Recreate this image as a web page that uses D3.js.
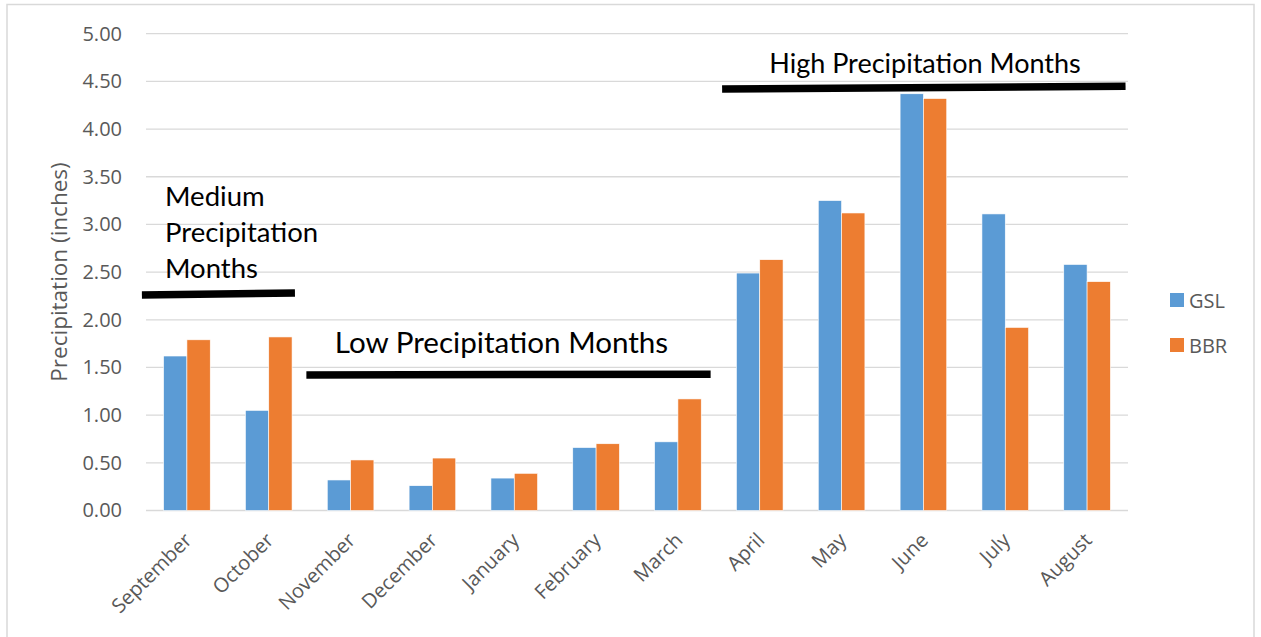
<!DOCTYPE html>
<html>
<head>
<meta charset="utf-8">
<script src="https://cdn.jsdelivr.net/npm/d3@7"></script>
<style>
  html, body { margin: 0; padding: 0; background: #fff; }
  svg { display: block; }
</style>
</head>
<body>
<svg id="chart" width="1261" height="637"></svg>
<script>
// Monthly precipitation, two stations
const months = ["September", "October", "November", "December", "January", "February",
                "March", "April", "May", "June", "July", "August"];
const seriesNames = ["GSL", "BBR"];
const gslValues = [1.62, 1.05, 0.32, 0.26, 0.34, 0.66, 0.72, 2.49, 3.25, 4.37, 3.11, 2.58];
const bbrValues = [1.79, 1.82, 0.53, 0.55, 0.39, 0.70, 1.17, 2.63, 3.12, 4.32, 1.92, 2.40];
const yTicks = [0, 0.5, 1, 1.5, 2, 2.5, 3, 3.5, 4, 4.5, 5];
const seriesColors = ["#5b9bd5", "#ed7d31"];

// Season brackets: span in category units (index of band start), level in inches
const seasonLabels = ["Medium\nPrecipitation\nMonths", "Low Precipitation Months", "High Precipitation Months"];
const seasonStart = [-0.05, 1.96, 7.04];
const seasonEnd = [1.82, 6.90, 11.97];
const seasonLevelStart = [2.26, 1.42, 4.42];
const seasonLevelEnd = [2.28, 1.43, 4.45];

const svg = d3.select("#chart");
const W = 1261, H = 637;
const margin = { left: 146, right: W - 1128, top: 33.7, bottom: H - 510.5 };
const plotW = W - margin.left - margin.right;
const plotH = H - margin.top - margin.bottom;

const tickFont = "'Open Sans', 'Noto Sans', sans-serif";
const noteFont = "Lato, 'Noto Sans', sans-serif";
const grey = "#595959";

// Chart frame
svg.append("rect")
  .attr("x", 7).attr("y", 4.5)
  .attr("width", 1247).attr("height", 640)
  .attr("fill", "#fff").attr("stroke", "#d9d9d9").attr("stroke-width", 1.5);

const g = svg.append("g").attr("transform", `translate(${margin.left},${margin.top})`);

const x0 = d3.scaleBand().domain(months).range([0, plotW]).padding(0);
const x1 = d3.scaleBand().domain(seriesNames).range([0, x0.bandwidth()]).paddingOuter(0.755).paddingInner(0);
const y = d3.scaleLinear().domain([0, 5]).range([plotH, 0]);
// category-position scale for the season brackets
const xc = d3.scaleLinear().domain([0, months.length]).range([0, plotW]);

// Gridlines
g.append("g")
  .selectAll("line")
  .data(yTicks)
  .join("line")
  .attr("x1", 0).attr("x2", plotW)
  .attr("y1", d => y(d)).attr("y2", d => y(d))
  .attr("stroke", "#d9d9d9").attr("stroke-width", 1.3);

// Y axis labels
const yAxis = d3.axisLeft(y).tickValues(yTicks).tickFormat(d3.format(".2f")).tickSize(0).tickPadding(24);
g.append("g").call(yAxis)
  .call(s => s.select(".domain").remove())
  .call(s => s.selectAll("text")
    .attr("fill", grey).attr("font-family", tickFont).attr("font-size", 20));

// X axis labels
const xAxis = d3.axisBottom(x0).tickSize(0).tickPadding(0);
g.append("g").attr("transform", `translate(0,${plotH})`).call(xAxis)
  .call(s => s.select(".domain").remove())
  .call(s => s.selectAll("text")
    .attr("fill", grey).attr("font-family", tickFont).attr("font-size", 20)
    .attr("text-anchor", "end")
    .attr("dy", null).attr("y", 0)
    .attr("transform", "translate(6,31) rotate(-45)"));

// Bars
const rows = months.map((m, i) => ({ month: m, values: [gslValues[i], bbrValues[i]] }));
g.append("g")
  .selectAll("g")
  .data(rows)
  .join("g")
  .attr("transform", d => `translate(${x0(d.month)},0)`)
  .selectAll("rect")
  .data(d => d.values.map((v, k) => ({ key: seriesNames[k], value: v, color: seriesColors[k] })))
  .join("rect")
  .attr("x", d => x1(d.key))
  .attr("width", x1.bandwidth())
  .attr("y", d => y(d.value))
  .attr("height", d => plotH - y(d.value))
  .attr("fill", d => d.color)
  .attr("stroke", "#fff").attr("stroke-width", 0.6);

// Season brackets
seasonLabels.forEach((label, i) => {
  g.append("line")
    .attr("x1", xc(seasonStart[i])).attr("x2", xc(seasonEnd[i]))
    .attr("y1", y(seasonLevelStart[i])).attr("y2", y(seasonLevelEnd[i]))
    .attr("stroke", "#000").attr("stroke-width", 7.5);
});

// Season captions
const medLines = seasonLabels[0].split("\n");
const medText = g.append("text")
  .attr("font-family", noteFont).attr("font-size", 27.5).attr("fill", "#000");
medLines.forEach((ln, k) => {
  medText.append("tspan").attr("x", 165 - margin.left).attr("y", 206 - margin.top + k * 36).text(ln);
});
g.append("text")
  .attr("x", (335 + 668) / 2 - margin.left).attr("y", 353 - margin.top)
  .attr("text-anchor", "middle")
  .attr("font-family", noteFont).attr("font-size", 29.6).attr("fill", "#000")
  .text(seasonLabels[1]);
g.append("text")
  .attr("x", (769 + 1081) / 2 - margin.left).attr("y", 73 - margin.top)
  .attr("text-anchor", "middle")
  .attr("font-family", noteFont).attr("font-size", 27).attr("fill", "#000")
  .text(seasonLabels[2]);

// Y axis title
svg.append("text")
  .attr("transform", `translate(67,272) rotate(-90)`)
  .attr("text-anchor", "middle")
  .attr("font-family", tickFont).attr("font-size", 22.5).attr("fill", grey)
  .text("Precipitation (inches)");

// Legend
const legend = svg.append("g").attr("transform", "translate(1170,293)");
seriesNames.forEach((name, k) => {
  const row = legend.append("g").attr("transform", `translate(0,${k * 45})`);
  row.append("rect").attr("width", 14).attr("height", 14).attr("fill", seriesColors[k]);
  row.append("text").attr("x", 19).attr("y", 14.5)
    .attr("font-family", tickFont).attr("font-size", 20).attr("fill", grey)
    .text(name);
});
</script>
</body>
</html>
